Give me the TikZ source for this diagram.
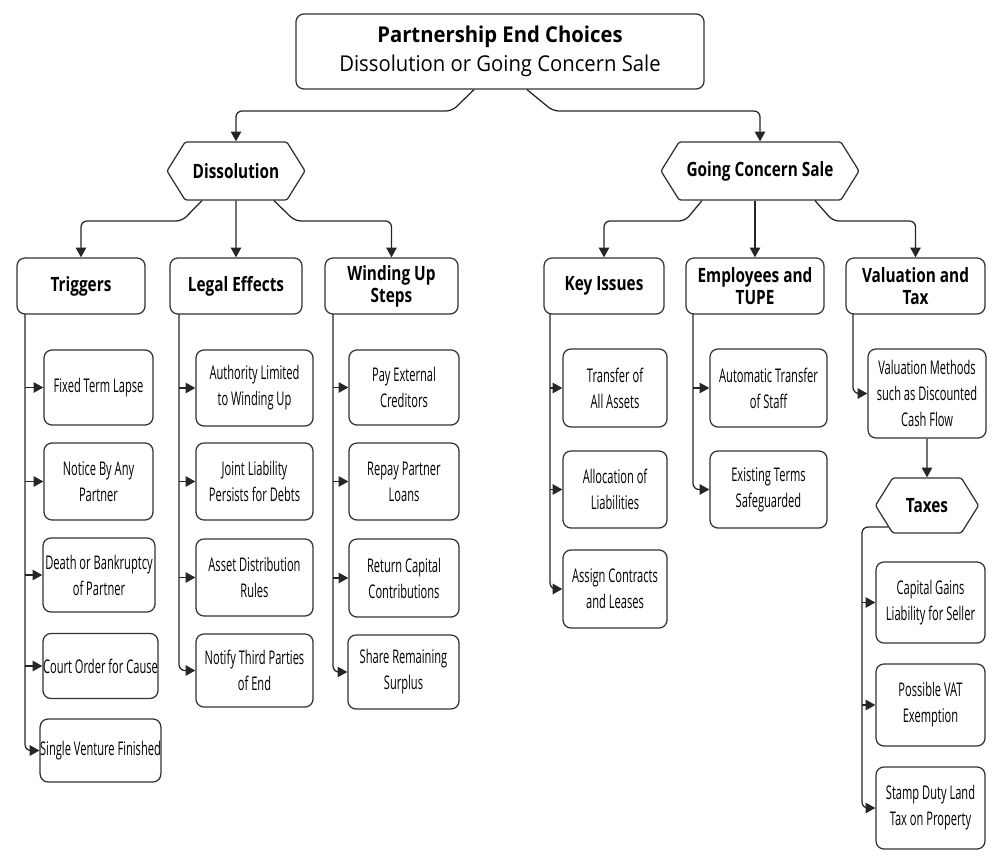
\documentclass[tikz,border=0pt]{standalone}
\usepackage{fontspec}
\setmainfont{Open Sans}
\newfontfamily\rootfont[FakeStretch=0.93]{Open Sans}
\newfontfamily\headfont[FakeStretch=0.78]{Open Sans}
\newfontfamily\leaffont[FakeStretch=0.59]{Open Sans}
\usetikzlibrary{arrows.meta,shapes.symbols,positioning,calc}

\begin{document}
\begin{tikzpicture}[x=0.025cm, y=-0.025cm,
		box/.style={draw=black!80, line width=0.9pt, rounded corners=0.2cm, align=center, inner sep=0pt},
		rootbox/.style={box, minimum width=10.2cm, minimum height=1.875cm, font=\rootfont\fontsize{15.5}{20.5}\selectfont},
		headbox/.style={box, minimum height=1.4cm, font=\headfont\bfseries\fontsize{14}{15.6}\selectfont},
		leafbox/.style={box, font=\leaffont\fontsize{13.4}{18.5}\selectfont},
		hexbox/.style={draw=black!80, line width=0.9pt, signal, signal to=west and east, signal pointer angle=116,
			rounded corners=1.5pt, inner sep=0pt, align=center, font=\headfont\bfseries\fontsize{14}{15.6}\selectfont},
		arr/.style={draw=black!85, line width=0.9pt, -{Triangle[length=7pt,width=7.5pt]}},
		conn/.style={arr, rounded corners=0.15cm}]
		\useasboundingbox (0,0) rectangle (1004,867);

		% top and first split
		\node[rootbox] (root) at (500,51.5) {\textbf{Partnership End Choices}\\Dissolution or Going Concern Sale};
		\node[hexbox, minimum width=3.45cm, minimum height=1.45cm] (diss) at (236,171) {Dissolution};
		\node[hexbox, minimum width=4.95cm, minimum height=1.45cm] (gcs) at (760,171) {Going Concern Sale};

		% second level
		\node[headbox, minimum width=3.2cm] (trig) at (81,286) {Triggers};
		\node[headbox, minimum width=3.3cm] (legal) at (236,286) {Legal Effects};
		\node[headbox, minimum width=3.325cm] (wind) at (391.5,286) {Winding Up\\Steps};
		\node[headbox, minimum width=3.0cm] (key) at (604,286) {Key Issues};
		\node[headbox, minimum width=3.45cm] (emp) at (755,286) {Employees and\\TUPE};
		\node[headbox, minimum width=3.475cm] (val) at (915.5,286) {Valuation and\\Tax};

		% triggers
		\node[leafbox, minimum width=2.725cm, minimum height=1.875cm] (t1) at (98.5,387.5) {Fixed Term Lapse};
		\node[leafbox, minimum width=2.725cm, minimum height=1.925cm] (t2) at (98.5,481.5) {Notice By Any\\Partner};
		\node[leafbox, minimum width=2.8cm, minimum height=1.85cm] (t3) at (99,575) {Death or Bankruptcy\\of Partner};
		\node[leafbox, minimum width=2.875cm, minimum height=1.625cm] (t4) at (100.5,666) {Court Order for Cause};
		\node[leafbox, minimum width=2.925cm, minimum height=1.575cm] (t5) at (100.5,750.5) {Single Venture Finished};

		% legal effects
		\node[leafbox, minimum width=2.925cm, minimum height=1.9cm] (l1) at (254.5,388) {Authority Limited\\to Winding Up};
		\node[leafbox, minimum width=2.925cm, minimum height=1.925cm] (l2) at (254.5,481.5) {Joint Liability\\Persists for Debts};
		\node[leafbox, minimum width=2.925cm, minimum height=1.925cm] (l3) at (254.5,577.5) {Asset Distribution\\Rules};
		\node[leafbox, minimum width=2.925cm, minimum height=1.825cm] (l4) at (254.5,670.5) {Notify Third Parties\\of End};

		% winding up
		\node[leafbox, minimum width=2.75cm, minimum height=1.875cm] (w1) at (404,387.5) {Pay External\\Creditors};
		\node[leafbox, minimum width=2.75cm, minimum height=1.925cm] (w2) at (404,481.5) {Repay Partner\\Loans};
		\node[leafbox, minimum width=2.75cm, minimum height=1.95cm] (w3) at (404,578) {Return Capital\\Contributions};
		\node[leafbox, minimum width=2.775cm, minimum height=1.85cm] (w4) at (403.5,672) {Share Remaining\\Surplus};

		% key issues
		\node[leafbox, minimum width=2.6cm, minimum height=1.95cm] (k1) at (615,388) {Transfer of\\All Assets};
		\node[leafbox, minimum width=2.6cm, minimum height=1.925cm] (k2) at (615,489.5) {Allocation of\\Liabilities};
		\node[leafbox, minimum width=2.6cm, minimum height=1.95cm] (k3) at (615,589) {Assign Contracts\\and Leases};

		% employees
		\node[leafbox, minimum width=2.925cm, minimum height=1.95cm] (e1) at (768.5,388) {Automatic Transfer\\of Staff};
		\node[leafbox, minimum width=2.925cm, minimum height=1.925cm] (e2) at (768.5,489.5) {Existing Terms\\Safeguarded};

		% valuation and taxes
		\node[leafbox, minimum width=2.95cm, minimum height=2.225cm] (vm) at (927,393.5) {Valuation Methods\\such as Discounted\\Cash Flow};
		\node[hexbox, minimum width=2.575cm, minimum height=1.375cm] (taxes) at (927,505.5) {Taxes};
		\node[leafbox, minimum width=2.725cm, minimum height=2.025cm] (x1) at (930.5,602.5) {Capital Gains\\Liability for Seller};
		\node[leafbox, minimum width=2.725cm, minimum height=2.05cm] (x2) at (930.5,705) {Possible VAT\\Exemption};
		\node[leafbox, minimum width=2.725cm, minimum height=2.05cm] (x3) at (930.5,808) {Stamp Duty Land\\Tax on Property};

		% bends and buses
		\coordinate (rootL) at (452,111);
		\coordinate (rootR) at (553,111);
		\coordinate (dissL) at (182,221);
		\coordinate (dissR) at (295,221);
		\coordinate (gcsL) at (685,221);
		\coordinate (gcsR) at (833,221);
		\coordinate (trigbus) at (25,314);
		\coordinate (legalbus) at (179,314);
		\coordinate (windbus) at (333,314);
		\coordinate (keybus) at (550,314);
		\coordinate (empbus) at (693,314);
		\coordinate (valbus) at (853,314);
		\coordinate (taxbus) at (862,527);

		\draw[conn] ([xshift=-0.65cm]root.south) -- (rootL) -| (diss);
		\draw[conn] ([xshift=0.675cm]root.south) -- (rootR) -| (gcs);

		\draw[conn] ([xshift=-0.85cm]diss.south) -- (dissL) -| (trig);
		\draw[arr] (diss) -- (legal);
		\draw[conn] ([xshift=0.95cm]diss.south) -- (dissR) -| (wind);
		\draw[conn] ([xshift=-1.45cm]gcs.south) -- (gcsL) -| (key);
		\draw[arr] (gcs.south -| emp.north) -- (emp);
		\draw[conn] ([xshift=1.375cm]gcs.south) -- (gcsR) -| (val);

		% buses down the left side
		\draw[conn] (trigbus) |- (t5);
		\foreach \n in {t1,t2,t3,t4} \draw[arr] (\n.west -| trigbus) -- (\n);
		\draw[conn] (legalbus) |- (l4);
		\foreach \n in {l1,l2,l3} \draw[arr] (\n.west -| legalbus) -- (\n);
		\draw[conn] (windbus) |- (w4);
		\foreach \n in {w1,w2,w3} \draw[arr] (\n.west -| windbus) -- (\n);
		\draw[conn] (keybus) |- (k3);
		\foreach \n in {k1,k2} \draw[arr] (\n.west -| keybus) -- (\n);
		\draw[conn] (empbus) |- (e2);
		\draw[arr] (e1.west -| empbus) -- (e1);
		\draw[conn] (valbus) |- (vm);
		\draw[arr] (vm) -- (taxes);
		\draw[conn] (taxes.209) -- (taxbus) |- (x3);
		\foreach \n in {x1,x2} \draw[arr] (\n.west -| taxbus) -- (\n);
	\end{tikzpicture}
\end{document}
